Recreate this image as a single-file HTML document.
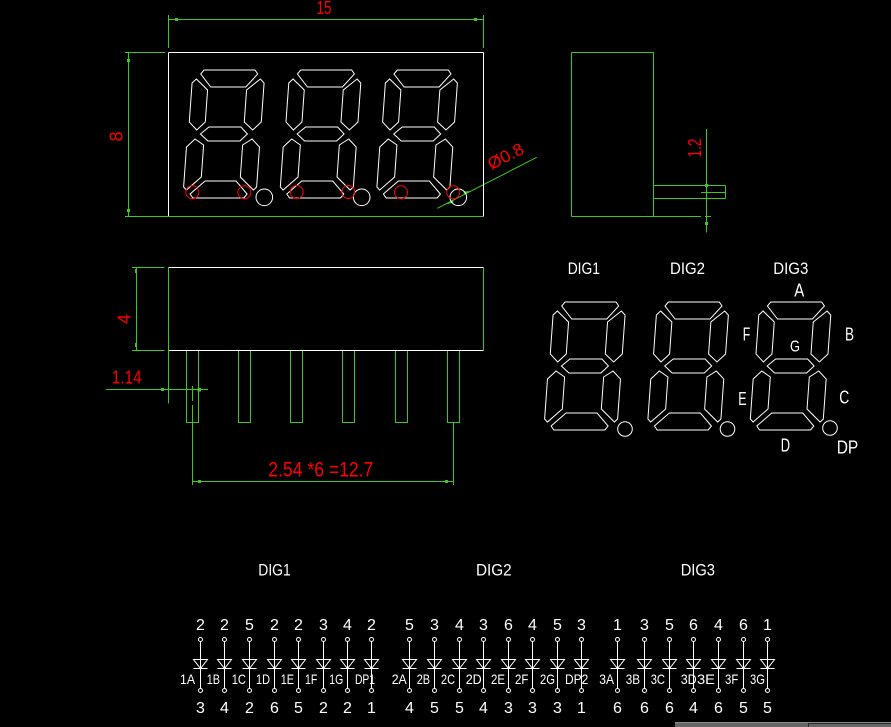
<!DOCTYPE html>
<html><head><meta charset="utf-8">
<style>
html,body{margin:0;padding:0;background:#000;}
svg{display:block}
text{font-family:"Liberation Sans",sans-serif;}
</style></head><body>
<svg width="891" height="727" viewBox="0 0 891 727" xmlns="http://www.w3.org/2000/svg">
<rect width="891" height="727" fill="#000"/>
<defs>
<g id="dig" fill="none" stroke="#fff" stroke-width="1">
<polygon vector-effect="non-scaling-stroke" points="12,0 63,0 66,4 55,17 20,17 9,4"/>
<polygon vector-effect="non-scaling-stroke" points="5,9 1,13 1,52 9,60 17,52 17,20"/>
<polygon vector-effect="non-scaling-stroke" points="69,9 73,13 73,52 65,60 56,52 56,20"/>
<polygon vector-effect="non-scaling-stroke" points="21,57 53,57 60,64 53,71 21,71 13,64"/>
<polygon vector-effect="non-scaling-stroke" points="8,69 0,77 0,117 3,120 17,107 17,75"/>
<polygon vector-effect="non-scaling-stroke" points="65,69 73,77 73,117 70,120 56,107 56,75"/>
<polygon vector-effect="non-scaling-stroke" points="21,111 52,111 64,124 61,128 10,128 7,124"/>
</g>
<g id="dd" fill="none" stroke="#fff" stroke-width="1">
<circle cx="0" cy="639.5" r="2"/>
<line x1="0" y1="641.5" x2="0" y2="688.5"/>
<polygon points="-7,659.5 7,659.5 0,668.5"/>
<line x1="-7" y1="668.5" x2="7" y2="668.5"/>
<circle cx="0" cy="690.5" r="2"/>
</g>
</defs>

<!-- ===== TOP VIEW ===== -->
<g stroke="#3cc81e" stroke-width="1" fill="none">
<line x1="168.5" y1="19.5" x2="483.5" y2="19.5"/>
<line x1="168.5" y1="15" x2="168.5" y2="48"/>
<line x1="483.5" y1="15" x2="483.5" y2="48"/>
<line x1="128.5" y1="52.5" x2="128.5" y2="216.5"/>
<line x1="125" y1="52.5" x2="165" y2="52.5"/>
<line x1="125" y1="216.5" x2="484" y2="216.5"/>
<line x1="437.3" y1="208.3" x2="536.7" y2="157.3"/>
</g>
<g fill="#3cc81e">
<rect x="175" y="18" width="3" height="3"/>
<rect x="474" y="18" width="3" height="3"/>
<rect x="127" y="59" width="3" height="3"/>
<rect x="127" y="209" width="3" height="3"/>
<polygon points="446,204.5 453,199.5 453.5,202.5"/>
<polygon points="471,191 464,194.5 463.5,191.5"/>
</g>
<g stroke="#fff" stroke-width="1" fill="none">
<line x1="168.5" y1="52.5" x2="483.5" y2="52.5"/>
<line x1="168.5" y1="52.5" x2="168.5" y2="216"/>
<line x1="483.5" y1="52.5" x2="483.5" y2="216"/>
<circle cx="264.3" cy="197.3" r="8.3"/>
<circle cx="361.7" cy="197.3" r="8.3"/>
<circle cx="458.3" cy="197.3" r="8.3"/>
</g>
<use href="#dig" transform="translate(192,70) skewX(-4.1)"/>
<use href="#dig" transform="translate(288.7,70) skewX(-4.1)"/>
<use href="#dig" transform="translate(385.3,70) skewX(-4.1)"/>
<g stroke="#ff0000" stroke-width="1" fill="none">
<circle cx="192.3" cy="192.3" r="6.5"/>
<circle cx="244.3" cy="192.3" r="6.5"/>
<circle cx="296.7" cy="192" r="6.5"/>
<circle cx="348.3" cy="192" r="6.5"/>
<circle cx="401" cy="192.3" r="6.5"/>
<circle cx="453.3" cy="192.3" r="6.5"/>
</g>
<g fill="#ff0000" font-size="18">
<text x="324" y="14" text-anchor="middle" textLength="15" lengthAdjust="spacingAndGlyphs">15</text>
<text transform="translate(116,136.5) rotate(-90)" y="6.5" text-anchor="middle">8</text>
<text transform="translate(506,157) rotate(-27)" y="5" text-anchor="middle" font-size="17" textLength="38" lengthAdjust="spacingAndGlyphs">Ø0.8</text>
</g>

<!-- ===== SIDE VIEW ===== -->
<g stroke="#3cc81e" stroke-width="1" fill="none">
<line x1="571.5" y1="52.5" x2="653.5" y2="52.5"/>
<line x1="571.5" y1="52.5" x2="571.5" y2="216.5"/>
<line x1="653.5" y1="52.5" x2="653.5" y2="216.5"/>
<line x1="571.5" y1="216.5" x2="701" y2="216.5"/>
<line x1="705" y1="216.5" x2="711" y2="216.5"/>
<line x1="653.5" y1="185.5" x2="725.5" y2="185.5"/>
<line x1="653.5" y1="198.5" x2="725.5" y2="198.5"/>
<line x1="725.5" y1="185.5" x2="725.5" y2="198.5"/>
<line x1="701" y1="192.5" x2="725.5" y2="192.5"/>
<line x1="706.5" y1="129" x2="706.5" y2="232.5"/>
</g>
<g fill="#3cc81e">
<rect x="705" y="184" width="3" height="3"/>
<rect x="705" y="222" width="3" height="3"/>
</g>
<text transform="translate(694.5,148) rotate(-90)" y="6.5" text-anchor="middle" fill="#ff0000" font-size="18" textLength="19" lengthAdjust="spacingAndGlyphs">1.2</text>

<!-- ===== FRONT LOWER VIEW ===== -->
<g stroke="#fff" stroke-width="1">
<line x1="169" y1="267.5" x2="483.5" y2="267.5"/>
<line x1="169" y1="350.5" x2="483.5" y2="350.5"/>
</g>
<g stroke="#3cc81e" stroke-width="1" fill="none">
<line x1="168.5" y1="267" x2="168.5" y2="403.5"/>
<line x1="483.5" y1="267.5" x2="483.5" y2="350.5"/>
<line x1="136.5" y1="267.5" x2="136.5" y2="350.5"/>
<line x1="132" y1="267.5" x2="164.5" y2="267.5"/>
<line x1="132" y1="350.5" x2="164.5" y2="350.5"/>
<polyline points="186.5,351 186.5,422.5 198.5,422.5 198.5,351"/>
<polyline points="238.5,351 238.5,422.5 250.5,422.5 250.5,351"/>
<polyline points="290.5,351 290.5,422.5 302.5,422.5 302.5,351"/>
<polyline points="342.5,351 342.5,422.5 354.5,422.5 354.5,351"/>
<polyline points="395.5,351 395.5,422.5 407.5,422.5 407.5,351"/>
<polyline points="447.5,351 447.5,422.5 459.5,422.5 459.5,351"/>
<line x1="106" y1="389.5" x2="208" y2="389.5"/>
<line x1="192.5" y1="386" x2="192.5" y2="401"/>
<line x1="192.5" y1="405" x2="192.5" y2="485"/>
<line x1="192.5" y1="481.5" x2="453.5" y2="481.5"/>
<line x1="453.5" y1="423" x2="453.5" y2="485"/>
</g>
<g fill="#3cc81e">
<rect x="135" y="269" width="2" height="4"/>
<rect x="135" y="343" width="2" height="4"/>
<rect x="161" y="388" width="3" height="3"/>
<rect x="197.5" y="388" width="3.5" height="3.5"/>
<rect x="198" y="480" width="3" height="3"/>
<rect x="445" y="480" width="3" height="3"/>
</g>
<g fill="#ff0000">
<text transform="translate(124,319) rotate(-90)" y="6.5" text-anchor="middle" font-size="18">4</text>
<text x="111.7" y="383.3" font-size="18" textLength="30" lengthAdjust="spacingAndGlyphs">1.14</text>
<text x="268.3" y="476.7" font-size="21" textLength="105" lengthAdjust="spacingAndGlyphs">2.54 *6 =12.7</text>
</g>

<!-- ===== RIGHT DIGITS ===== -->
<use href="#dig" transform="translate(553,302) skewX(-4.1)"/>
<use href="#dig" transform="translate(656.3,302) skewX(-4.1)"/>
<use href="#dig" transform="translate(758.7,302) skewX(-4.1)"/>
<g stroke="#fff" stroke-width="1" fill="none">
<circle cx="625" cy="429" r="7.3"/>
<circle cx="727.5" cy="429" r="7.3"/>
<circle cx="830" cy="428" r="7.3"/>
</g>
<g fill="#fff" font-size="17">
<text x="567.7" y="274" textLength="32.3" lengthAdjust="spacingAndGlyphs">DIG1</text>
<text x="670" y="274" textLength="35" lengthAdjust="spacingAndGlyphs">DIG2</text>
<text x="773.3" y="274" textLength="35" lengthAdjust="spacingAndGlyphs">DIG3</text>
</g>
<g fill="#fff" font-size="18">
<text x="794.3" y="296.7" textLength="10" lengthAdjust="spacingAndGlyphs">A</text>
<text x="742.7" y="340.7" textLength="7.5" lengthAdjust="spacingAndGlyphs">F</text>
<text x="845" y="340.7" textLength="9" lengthAdjust="spacingAndGlyphs">B</text>
<text x="790" y="351.7" font-size="16" textLength="10" lengthAdjust="spacingAndGlyphs">G</text>
<text x="738.3" y="405" textLength="8.4" lengthAdjust="spacingAndGlyphs">E</text>
<text x="839.3" y="403.3" textLength="10" lengthAdjust="spacingAndGlyphs">C</text>
<text x="780.7" y="451.7" textLength="9.3" lengthAdjust="spacingAndGlyphs">D</text>
<text x="836.7" y="453.3" textLength="21.6" lengthAdjust="spacingAndGlyphs">DP</text>
</g>

<!-- ===== BOTTOM DIODES ===== -->
<g fill="#fff" font-size="17">
<text x="258.3" y="575.7" textLength="32.4" lengthAdjust="spacingAndGlyphs">DIG1</text>
<text x="476" y="575.7" textLength="35.7" lengthAdjust="spacingAndGlyphs">DIG2</text>
<text x="680.7" y="575.7" textLength="34.3" lengthAdjust="spacingAndGlyphs">DIG3</text>
</g>

<use href="#dd" x="200.5"/><use href="#dd" x="224.5"/><use href="#dd" x="249.5"/><use href="#dd" x="274.5"/>
<use href="#dd" x="298.5"/><use href="#dd" x="323.5"/><use href="#dd" x="347.5"/><use href="#dd" x="371.5"/>
<use href="#dd" x="409.5"/><use href="#dd" x="434.5"/><use href="#dd" x="459.5"/><use href="#dd" x="483.5"/>
<use href="#dd" x="508.5"/><use href="#dd" x="532.5"/><use href="#dd" x="557.5"/><use href="#dd" x="581.5"/>
<use href="#dd" x="617.5"/><use href="#dd" x="644.5"/><use href="#dd" x="669.5"/><use href="#dd" x="693.5"/>
<use href="#dd" x="718.5"/><use href="#dd" x="743.5"/><use href="#dd" x="767.5"/>

<g fill="#fff" font-size="16" text-anchor="middle">
<text x="200.5" y="630">2</text><text x="224.5" y="630">2</text><text x="249.5" y="630">5</text><text x="274.5" y="630">2</text>
<text x="298.5" y="630">2</text><text x="323.5" y="630">3</text><text x="347.5" y="630">4</text><text x="371.5" y="630">2</text>
<text x="409.5" y="630">5</text><text x="434.5" y="630">3</text><text x="459.5" y="630">4</text><text x="483.5" y="630">3</text>
<text x="508.5" y="630">6</text><text x="532.5" y="630">4</text><text x="557.5" y="630">5</text><text x="581.5" y="630">3</text>
<text x="617.5" y="630">1</text><text x="644.5" y="630">3</text><text x="669.5" y="630">5</text><text x="693.5" y="630">6</text>
<text x="718.5" y="630">4</text><text x="743.5" y="630">6</text><text x="767.5" y="630">1</text>

<text x="200.5" y="713">3</text><text x="224.5" y="713">4</text><text x="249.5" y="713">2</text><text x="274.5" y="713">6</text>
<text x="298.5" y="713">5</text><text x="323.5" y="713">2</text><text x="347.5" y="713">2</text><text x="371.5" y="713">1</text>
<text x="409.5" y="713">4</text><text x="434.5" y="713">5</text><text x="459.5" y="713">5</text><text x="483.5" y="713">4</text>
<text x="508.5" y="713">3</text><text x="532.5" y="713">3</text><text x="557.5" y="713">3</text><text x="581.5" y="713">1</text>
<text x="617.5" y="713">6</text><text x="644.5" y="713">6</text><text x="669.5" y="713">6</text><text x="693.5" y="713">4</text>
<text x="718.5" y="713">6</text><text x="743.5" y="713">5</text><text x="767.5" y="713">5</text>
</g>

<g fill="#fff" font-size="14" lengthAdjust="spacingAndGlyphs">
<text x="180" y="684" textLength="15" lengthAdjust="spacingAndGlyphs">1A</text>
<text x="206.7" y="684" textLength="13.3" lengthAdjust="spacingAndGlyphs">1B</text>
<text x="231.7" y="684" textLength="14.3" lengthAdjust="spacingAndGlyphs">1C</text>
<text x="256" y="684" textLength="14" lengthAdjust="spacingAndGlyphs">1D</text>
<text x="280.7" y="684" textLength="13.3" lengthAdjust="spacingAndGlyphs">1E</text>
<text x="305" y="684" textLength="12.3" lengthAdjust="spacingAndGlyphs">1F</text>
<text x="329.3" y="684" textLength="14" lengthAdjust="spacingAndGlyphs">1G</text>
<text x="355" y="684" textLength="20" lengthAdjust="spacingAndGlyphs">DP1</text>

<text x="391.7" y="684" textLength="15" lengthAdjust="spacingAndGlyphs">2A</text>
<text x="416.7" y="684" textLength="13.3" lengthAdjust="spacingAndGlyphs">2B</text>
<text x="441" y="684" textLength="14" lengthAdjust="spacingAndGlyphs">2C</text>
<text x="465.7" y="684" textLength="16" lengthAdjust="spacingAndGlyphs">2D</text>
<text x="491" y="684" textLength="14" lengthAdjust="spacingAndGlyphs">2E</text>
<text x="515" y="684" textLength="13.3" lengthAdjust="spacingAndGlyphs">2F</text>
<text x="540" y="684" textLength="15" lengthAdjust="spacingAndGlyphs">2G</text>
<text x="565" y="684" textLength="23.3" lengthAdjust="spacingAndGlyphs">DP2</text>

<text x="599.3" y="684" textLength="14.7" lengthAdjust="spacingAndGlyphs">3A</text>
<text x="625.7" y="684" textLength="14.3" lengthAdjust="spacingAndGlyphs">3B</text>
<text x="650.7" y="684" textLength="14.3" lengthAdjust="spacingAndGlyphs">3C</text>
<text x="680.7" y="684" textLength="16" lengthAdjust="spacingAndGlyphs">3D</text>
<text x="697" y="684" textLength="18" lengthAdjust="spacingAndGlyphs">3E</text>
<text x="725" y="684" textLength="13.3" lengthAdjust="spacingAndGlyphs">3F</text>
<text x="750" y="684" textLength="15" lengthAdjust="spacingAndGlyphs">3G</text>
</g>

<!-- bottom-right gray bar -->
<rect x="675" y="722" width="216" height="5" fill="#666"/>
<line x1="675" y1="722.5" x2="891" y2="722.5" stroke="#8a8a8a" stroke-width="1"/>
<line x1="808.5" y1="723" x2="808.5" y2="727" stroke="#2a2a2a" stroke-width="1"/>
<line x1="809" y1="723.5" x2="891" y2="723.5" stroke="#2a2a2a" stroke-width="1"/>
</svg>
</body></html>
